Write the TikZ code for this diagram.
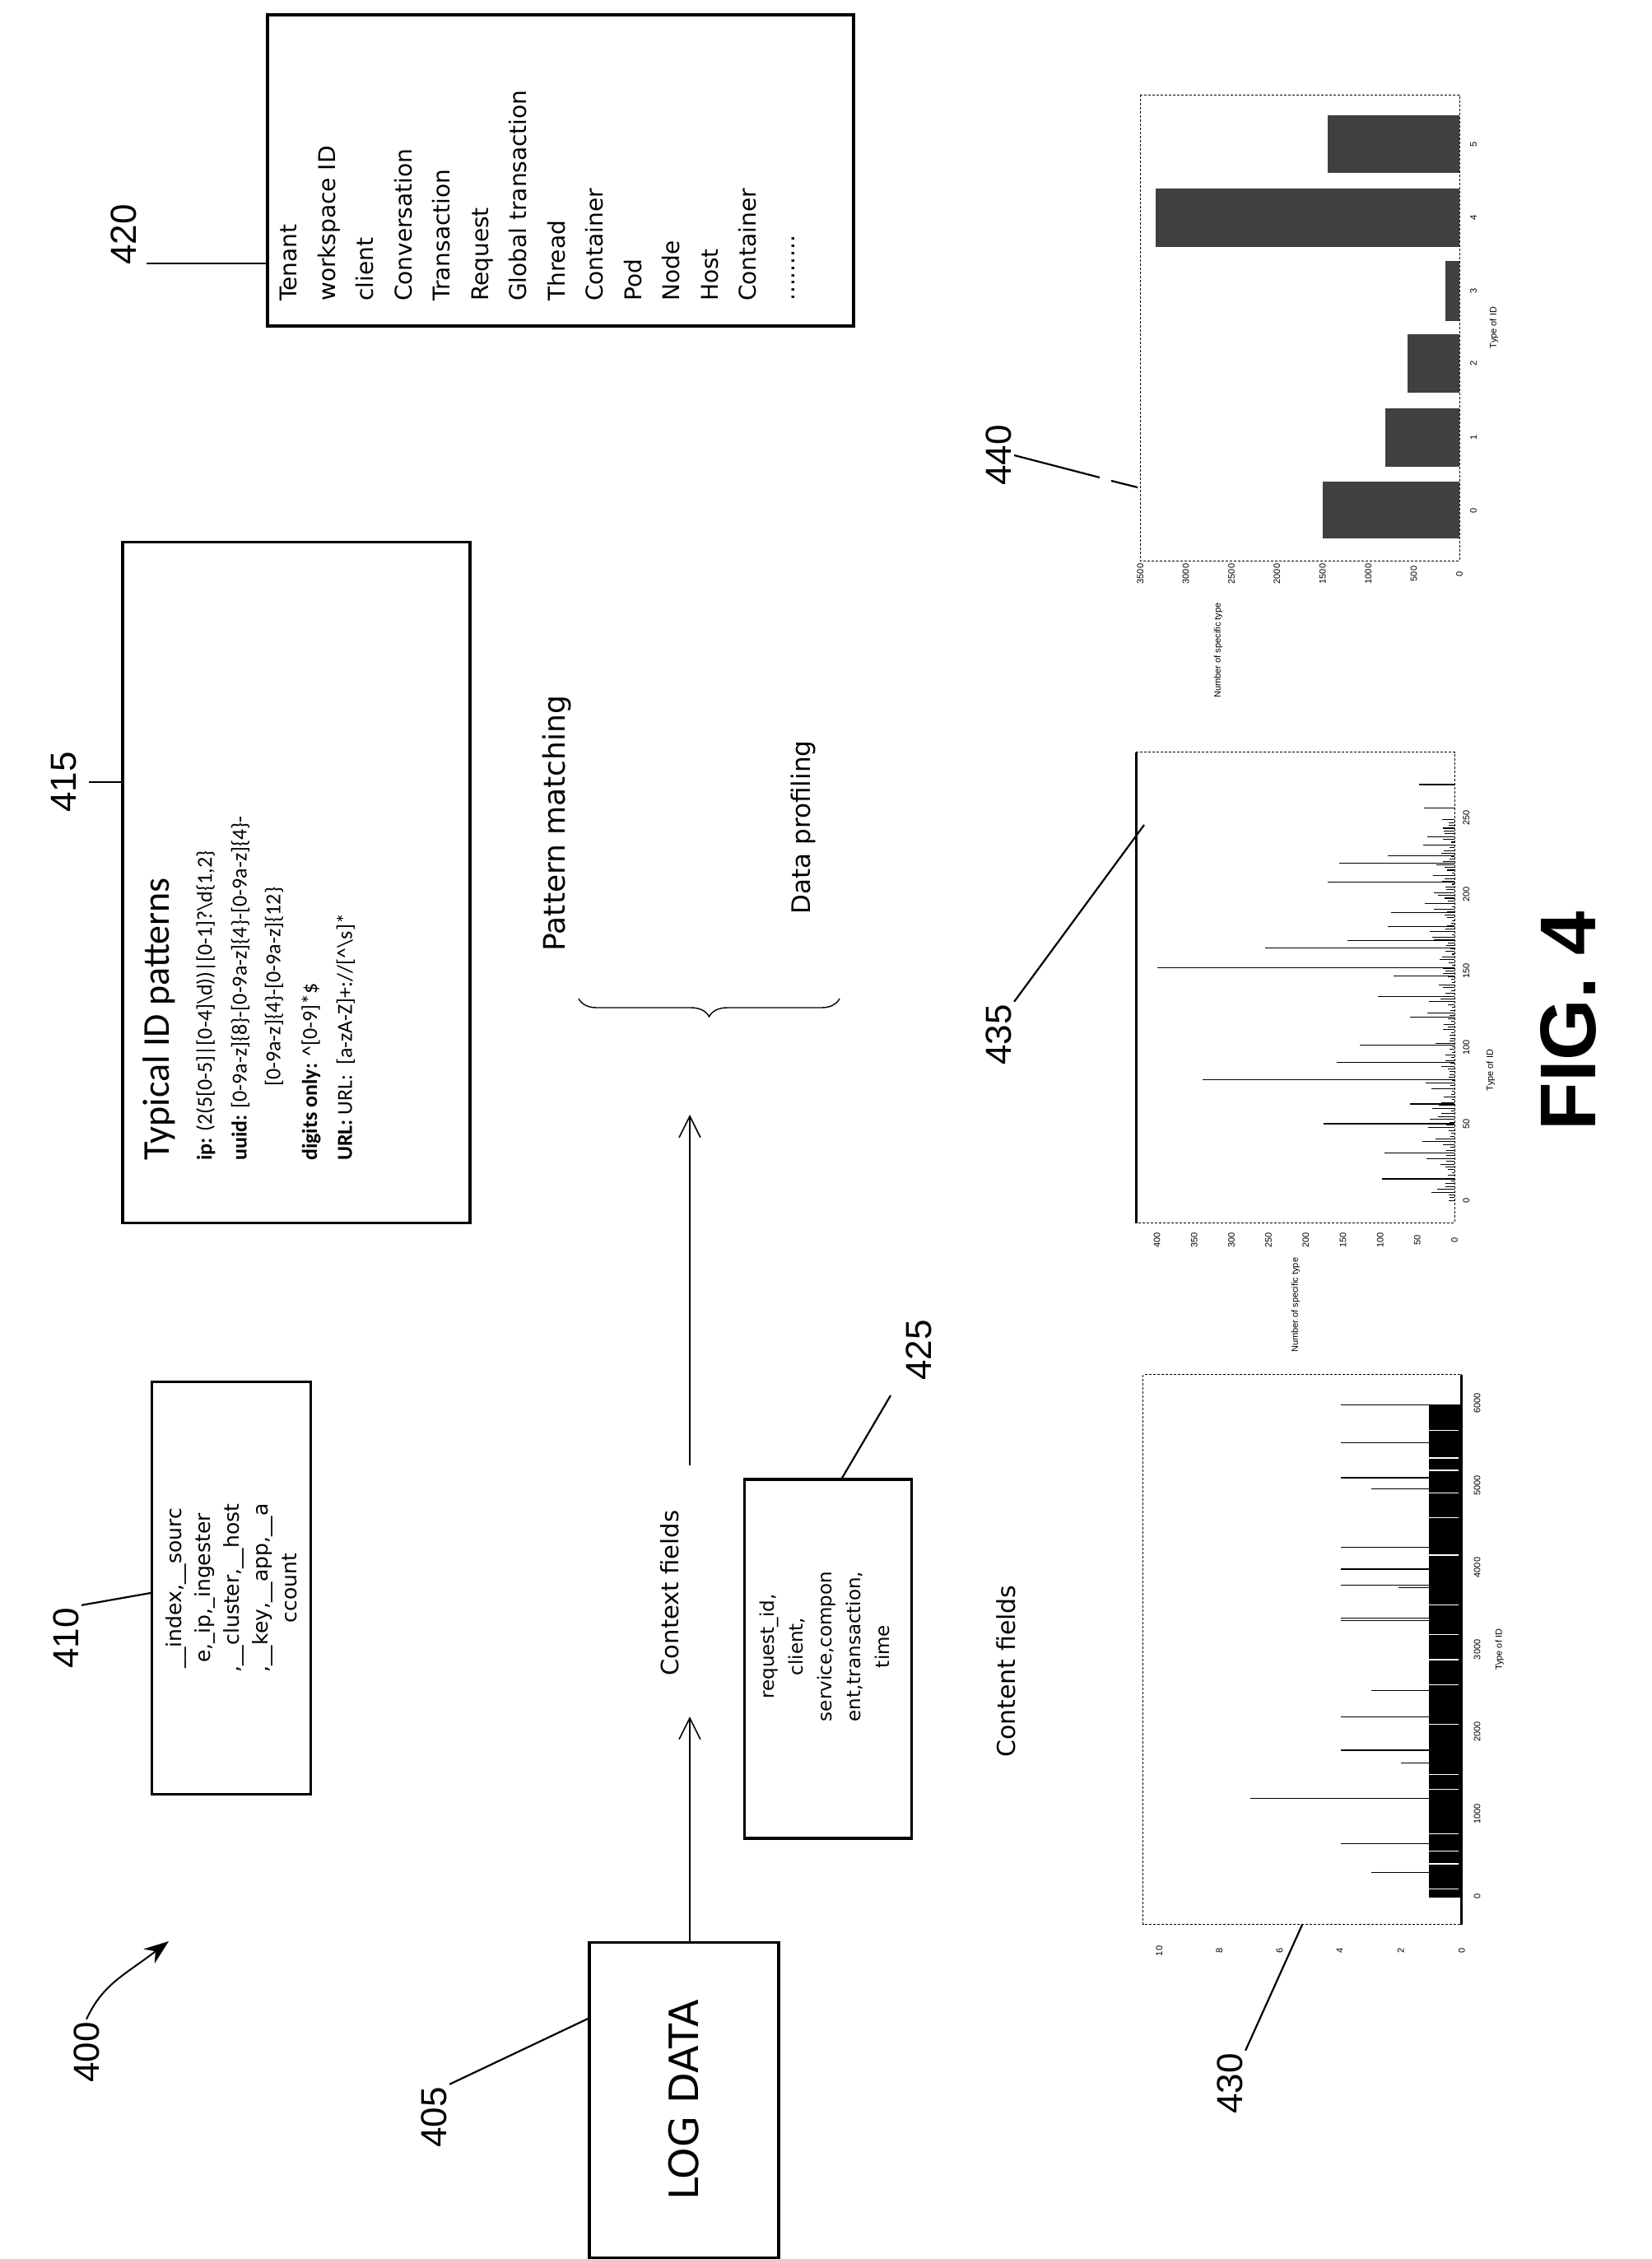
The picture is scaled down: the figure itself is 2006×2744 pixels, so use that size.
\documentclass[tikz,border=0pt]{standalone}
\usepackage{fontspec}
\setmainfont{Liberation Sans}
\newfontfamily\calfont{Carlito}
\newfontfamily\dvfont{DejaVu Sans}
\usetikzlibrary{arrows.meta,decorations.pathreplacing}
\tikzset{box/.style={draw,line width=3.2pt,inner sep=0pt}}
\tikzset{refnum/.style={rotate=90,font=\fontsize{44}{48}\selectfont}}
\tikzset{leader/.style={line width=2.2pt}}
\tikzset{flow/.style={line width=1.6pt,-{Straight Barb[length=26pt,width=26pt,line width=1.6pt]}}}
\tikzset{upright/.style={rotate=90,inner sep=0pt}}
\tikzset{frame/.style={line width=1pt,dash pattern=on 3pt off 2pt}}
\tikzset{tick/.style={rotate=90,font=\fontsize{11}{12}\selectfont,inner sep=1pt}}
\newcommand{\fsz}[2]{\fontsize{#1}{#2}\selectfont}

\begin{document}
\begin{tikzpicture}[x=1pt,y=-1pt]
\useasboundingbox (0,0) rectangle (2006,2744);
% boxes
\node[box,upright,minimum width=383pt,minimum height=230pt,font=\dvfont\fsz{49}{52}](logdata) at (831,2551){LOG DATA};
\node[box,upright,minimum width=501pt,minimum height=193pt,align=center,font=\dvfont\fsz{25}{35}](meta) at (281,1929)
 {\_\_index,\_\_sourc\\e,\_ip,\_ingester\\,\_\_cluster,\_\_host\\,\_\_key,\_\_app,\_\_a\\ccount};
\node[box,minimum width=203pt,minimum height=436pt](ctxbox) at (1006,2015){};
\node[upright,align=center,font=\dvfont\fsz{23}{35}](ctxtext) at (1002,2000)
 {request\_id,\\client,\\service,compon\\ent,transaction,\\time};
\node[box,minimum width=422pt,minimum height=827pt](idpat) at (360,1072){};
\node[box,minimum width=712pt,minimum height=378pt](idtypes) at (681,207){};

% 415 text
\node[upright,anchor=west,font=\calfont\fsz{46}{50}](pattitle) at (193,1410){Typical ID patterns};
\begin{scope}[every node/.style={upright,anchor=west,font=\calfont\fsz{26}{30}}]
\node(pip) at (250,1410){\textbf{ip:} (2(5[0-5]|[0-4]\textbackslash d))|[0-1]?\textbackslash d\{1,2\}};
\node(puuid) at (292,1410){\textbf{uuid:} [0-9a-z]\{8\}-[0-9a-z]\{4\}-[0-9a-z]\{4\}-};
\node(puuid2) at (333,1320){[0-9a-z]\{4\}-[0-9a-z]\{12\}};
\node(pdig) at (378,1410){\textbf{digits only:} \textasciicircum[0-9]*\$};
\node(purl) at (420,1410){\textbf{URL:} URL:\ \ [a-zA-Z]+://[\textasciicircum\textbackslash s]*};
\end{scope}

% 420 text
\node[upright,anchor=north west,align=left,font=\dvfont\fsz{28}{46.5}](typelist) at (340,366)
 {Tenant\\workspace ID\\client\\Conversation\\Transaction\\Request\\Global transaction\\Thread\\Container\\Pod\\Node\\Host\\Container\\.........};

% labels of the flow
\node[upright,font=\dvfont\fsz{29}{32}](ctx) at (814,1935){Context fields};
\node[upright,font=\dvfont\fsz{30}{32}](cont) at (1222,2030){Content fields};
\node[upright,font=\dvfont\fsz{36}{40}](patm) at (677,1000){Pattern matching};
\node[upright,font=\dvfont\fsz{31}{34}](prof) at (976,1005){Data profiling};
\coordinate(bracetip) at (838,1354);
\draw[line width=1.4pt,decorate,decoration={brace,amplitude=22pt}] (1020,1213) -- (703,1213);
\draw[flow] (838,2359) -- (838,2085);
\draw[flow] (838,1780) -- (bracetip);

% reference numerals
\node[refnum](n400) at (105,2493){400};
\draw[line width=2pt,-{Stealth[length=30pt,width=22pt]}] (n400.east) .. controls (125,2410) and (150,2400) .. (205,2358);
\node[refnum](n405) at (527,2572){405};
\draw[leader] (n405.south east) -- (logdata.north|-0,2452);
\node[refnum](n410) at (80,1990){410};
\draw[leader] (n410.south east) -- (meta.north|-0,1935);
\node[refnum](n415) at (78,950){415};
\draw[leader] (108,950) -- (idpat.west|-0,950);
\node[refnum](n420) at (150,285){420};
\draw[leader] (178,320) -- (idtypes.west|-0,320);
\node[refnum](n425) at (1116,1640){425};
\draw[leader] (1082,1695) -- (1022,1797);
\node[refnum](n430) at (1494,2531){430};
\draw[leader] (n430.south east) -- (1582,2338);
\node[refnum](n435) at (1213,1257){435};
\draw[leader] (n435.south east) -- (1390,1002);
\node[refnum](n440) at (1213,553){440};
\draw[leader] (n440.south) -- (1336,580);
\draw[leader] (1350,584) -- (1382,592);
\node[rotate=90,font=\bfseries\fsz{96}{100}](fig) at (1905,1240){FIG. 4};

% chart 430
\begin{scope}[shift={(1329,1538)},xscale=0.4175,yscale=0.605]
\draw[frame] (143,218) rectangle (1070,1322);
\draw[line width=3pt] (1070,218) -- (1070,1322);
\fill (975,278) rectangle (1070,1268);
\foreach \g in {330,385,410,455,505,580,680,740,790,840,920,1020,1050,1140,1175,1200,1250}
  \draw[white,line width=1.2pt] (975,\g) -- (1062,\g);
\foreach \s in {278,355,425,565,608,640,707,712,905,972,1160}
  \draw[line width=1.3pt] (1070,\s) -- (718,\s);
\foreach \s in {447,852,1217} \draw[line width=1.3pt] (1070,\s) -- (806,\s);
\draw[line width=1.3pt] (1070,1068) -- (455,1068);
\draw[line width=1.3pt] (1070,998) -- (893,998);
\draw[line width=1.3pt] (1070,645) -- (885,645);
\foreach \v/\xx in {10/190,8/365,6/540,4/715,2/893,0/1070}
  \node[tick](t430v\v) at (\xx,1375){\v};
\foreach \d/\yy in {0/1265,1000/1100,2000/935,3000/770,4000/605,5000/440,6000/275}
  \node[tick](t430d\d) at (1115,\yy){\d};
\node[tick](t430x) at (1180,770){Type of ID};
\end{scope}

% chart 435
\begin{scope}[shift={(1336,838)},xscale=0.340,yscale=0.479]
\draw[frame] (130,158) rectangle (1268,1352);
\draw[line width=3pt] (130,158) -- (130,1352);
\pgfmathsetseed{7}
\foreach \i in {0,...,136}{
  \pgfmathsetmacro\len{rnd*rnd*120+8}
  \draw[line width=1.1pt] (1268,1295-\i*7.1) -- ++(-\len,0);}
\foreach \s/\e in {705/205,988/368,655/590,900/930,1100/800,440/855,488/815,635/885,945/848,778/993,420/1030,600/1030,1240/1010,1175/1018,240/1140,1050/1108,830/1110,565/1040,725/1050,300/1160}
  \draw[line width=1.2pt] (1268,\s) -- (\e,\s);
\foreach \v in {0,50,...,400}
  \node[tick](t435v\v) at ({1268-\v*2.658},1395){\v};
\foreach \d in {0,50,...,250}
  \node[tick](t435d\d) at (1310,{1295-\d*3.88}){\d};
\node[tick](t435y) at (700,1560){Number of specific type};
\end{scope}
\node[tick](t435x) at (1811,1300){Type of ID};

% chart 440
\draw[frame] (1385,115) rectangle (1773,681);
\begin{scope}[fill=black!75]
\fill (1613,140) rectangle (1773,210);
\fill (1404,229) rectangle (1773,300);
\fill (1756,317) rectangle (1773,390);
\fill (1710,406) rectangle (1773,477);
\fill (1683,496) rectangle (1773,567);
\fill (1607,585) rectangle (1773,654);
\end{scope}
\foreach \k in {0,...,7}
  \node[tick](t440v\k) at ({1773-\k*55.4},697){\pgfmathparse{int(\k*500)}\pgfmathresult};
\foreach \k/\yy in {0/620,1/531,2/441,3/353,4/264,5/175}
  \node[tick](t440d\k) at (1790,\yy){\k};
\node[tick](t440x) at (1815,398){Type of ID};
\node[tick](t440y) at (1480,790){Number of specific type};
\end{tikzpicture}
\end{document}
